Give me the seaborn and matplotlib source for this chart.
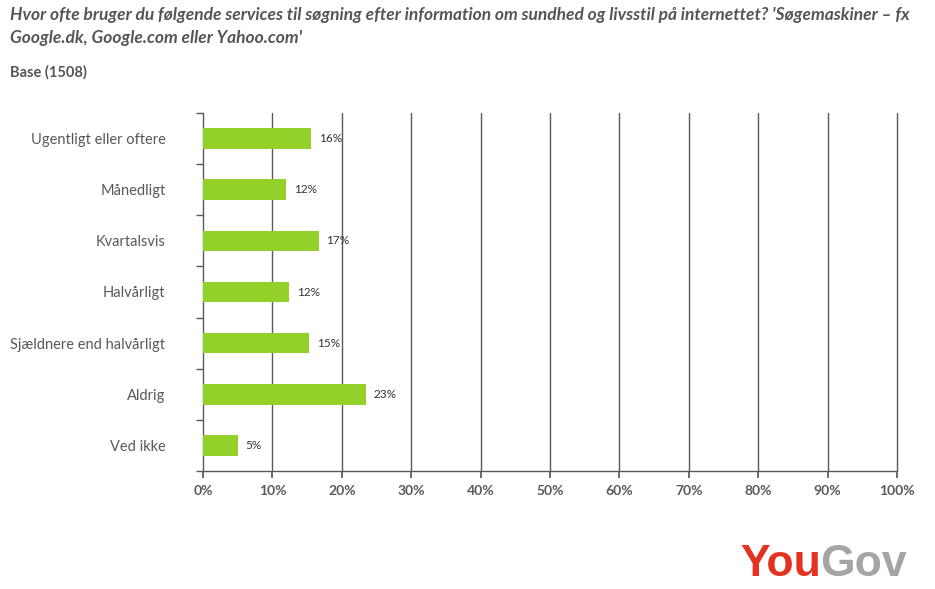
import matplotlib
matplotlib.use("Agg")
import matplotlib.pyplot as plt
import seaborn as sns
import pandas as pd

categories = ["Ugentligt eller oftere", "Månedligt", "Kvartalsvis", "Halvårligt",
              "Sjældnere end halvårligt", "Aldrig", "Ved ikke"]
values = [15.6, 12.0, 16.7, 12.4, 15.3, 23.5, 5.0]
labels = ["16%", "12%", "17%", "12%", "15%", "23%", "5%"]
x_ticks = [0, 10, 20, 30, 40, 50, 60, 70, 80, 90, 100]
x_tick_labels = [f"{t}%" for t in x_ticks]

title = ("Hvor ofte bruger du følgende services til søgning efter information om sundhed og livsstil på internettet? 'Søgemaskiner – fx\n"
         "Google.dk, Google.com eller Yahoo.com'")
base = "Base (1508)"

sns.set_theme(style="white")
plt.rcParams['font.family'] = ['Lato', 'DejaVu Sans']

df = pd.DataFrame({"cat": categories, "val": values})

fig = plt.figure(figsize=(9.35, 5.89), dpi=100)
ax = fig.add_axes([203/935, 1-471/589, (897-203)/935, (471-113)/589])

sns.barplot(data=df, y="cat", x="val", color="#93d12a", width=0.4, ax=ax,
            saturation=1, zorder=3, linewidth=0, edgecolor="none")

ax.set_xlim(0, 100)
ax.set_ylim(len(categories)-0.5, -0.5)
ax.set_xticks(x_ticks)
ax.set_xticklabels(x_tick_labels, fontsize=10, fontweight="bold", color="#595959")
ax.set_yticks(range(len(categories)))
ax.set_yticklabels(categories, fontsize=10.5, color="#595959")
ax.set_xlabel("")
ax.set_ylabel("")

for x in x_ticks[1:]:
    ax.axvline(x, color="#595959", lw=1.0, zorder=1, clip_on=False)

for s in ["top", "right"]:
    ax.spines[s].set_visible(False)
for s in ["left", "bottom"]:
    ax.spines[s].set_color("#595959")
    ax.spines[s].set_linewidth(1.0)

ax.tick_params(axis="y", length=0, pad=27)
ax.tick_params(axis="x", length=5, color="#595959", bottom=True, direction="out", pad=5)
ax.set_yticks([i - 0.5 for i in range(len(categories)+1)], minor=True)
ax.tick_params(axis="y", which="minor", length=5, color="#595959", left=True, direction="out")

for i, (v, lab) in enumerate(zip(values, labels)):
    ax.text(v + 1.1, i, lab, va="center", ha="left", fontsize=8.5, color="#333333")

fig.text(10/935, 1-7/589, title, ha="left", va="top", fontsize=12.5, fontweight="bold",
         fontstyle="italic", color="#555555", linespacing=1.55)
fig.text(10/935, 1-65/589, base, ha="left", va="top", fontsize=10.5, fontweight="bold",
         color="#555555")

t1 = fig.text(740/935, 1-576/589, "You", ha="left", va="baseline", fontsize=32,
              fontweight="bold", color="#e3321f", family="Liberation Sans")
fig.canvas.draw()
bb = t1.get_window_extent()
fig.text(bb.x1/935 - 1/935, 1-576/589, "Gov", ha="left", va="baseline", fontsize=32,
         fontweight="bold", color="#a5a5a5", family="Liberation Sans")

fig.savefig("out.png", dpi=100, facecolor="white")
